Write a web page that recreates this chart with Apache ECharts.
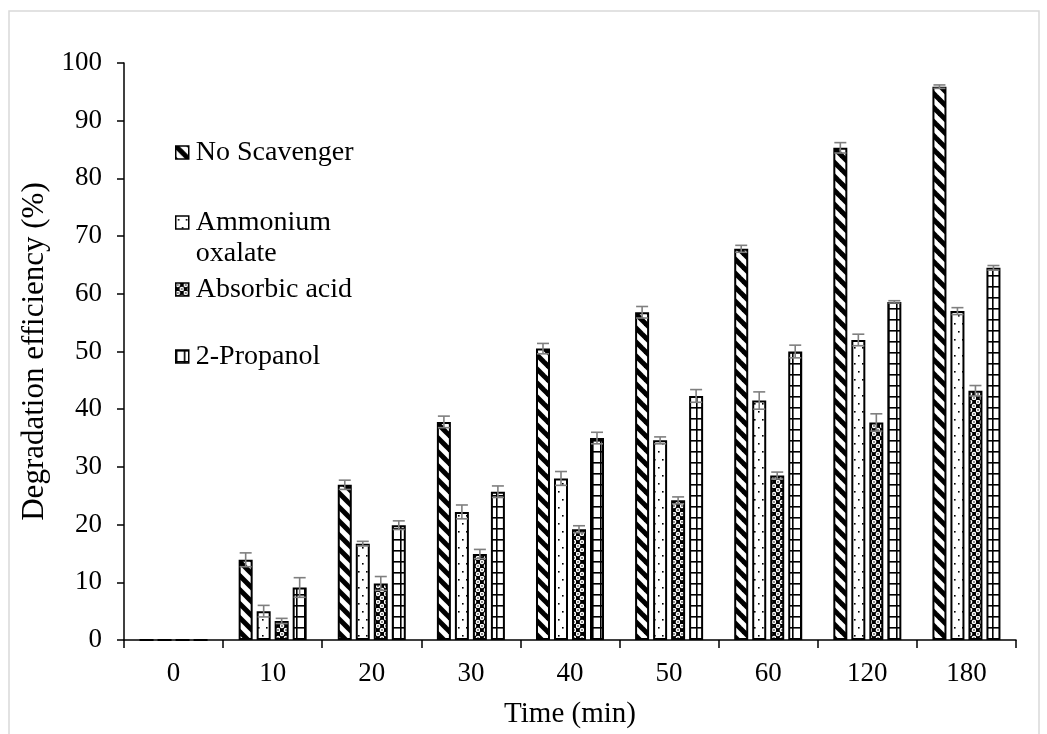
<!DOCTYPE html>
<html>
<head>
<meta charset="utf-8">
<script src="https://cdn.jsdelivr.net/npm/echarts@6/dist/echarts.min.js"></script>
<style>
html,body{margin:0;padding:0;background:#fff;}
#chart{width:1047px;height:734px;}
</style>
</head>
<body>
<div id="chart"></div>
<script>
// ---- Data ----
const categories = ['0', '10', '20', '30', '40', '50', '60', '120', '180'];
const seriesNames = ['No Scavenger', 'Ammonium oxalate', 'Absorbic acid', '2-Propanol'];
const noScavenger = [0, 13.9, 26.9, 37.8, 50.5, 56.8, 67.8, 85.3, 95.9];
const ammoniumOxalate = [0, 5.0, 16.7, 22.2, 28.0, 34.6, 41.5, 52.0, 57.0];
const absorbicAcid = [0, 3.3, 9.8, 14.9, 19.2, 24.2, 28.5, 37.7, 43.2];
const propanol = [0, 9.1, 19.9, 25.7, 35.0, 42.3, 50.0, 58.6, 64.5];
const noScavengerErr = [0, 1.2, 0.8, 1.0, 0.9, 1.0, 0.6, 0.9, 0.3];
const ammoniumOxalateErr = [0, 1.0, 0.4, 1.2, 1.2, 0.6, 1.5, 1.0, 0.6];
const absorbicAcidErr = [0, 0.45, 1.2, 0.8, 0.6, 0.6, 0.6, 1.5, 0.9];
const propanolErr = [0, 1.7, 0.75, 1.0, 1.0, 1.1, 1.1, 0.2, 0.4];
const yTicks = {min: 0, max: 100, interval: 10};

const values = [noScavenger, ammoniumOxalate, absorbicAcid, propanol];
const errors = [noScavengerErr, ammoniumOxalateErr, absorbicAcidErr, propanolErr];

// ---- Patterns ----
function tile(w, h, draw, bg) {
  const c = document.createElement('canvas');
  c.width = w; c.height = h;
  const ctx = c.getContext('2d');
  ctx.fillStyle = bg || '#fff';
  ctx.fillRect(0, 0, w, h);
  draw(ctx, w, h);
  return c;
}
const patStripes = tile(14, 14, (ctx) => {
  ctx.strokeStyle = '#000'; ctx.lineWidth = 5;
  for (const c of [-14, 0, 14]) {
    ctx.beginPath(); ctx.moveTo(c - 3, -3); ctx.lineTo(c + 17, 17); ctx.stroke();
  }
});
const patDots = tile(8, 16, (ctx) => {
  ctx.fillStyle = '#000';
  ctx.fillRect(2, 3, 1.6, 1.6);
  ctx.fillRect(6, 11, 1.6, 1.6);
});
const patCircles = tile(8, 8, (ctx) => {
  ctx.fillStyle = '#fff';
  for (const p of [[2, 2], [6, 6]]) {
    ctx.beginPath(); ctx.arc(p[0], p[1], 2.3, 0, Math.PI * 2); ctx.fill();
  }
  ctx.fillStyle = '#000';
  for (const p of [[2, 2], [6, 6]]) {
    ctx.beginPath(); ctx.arc(p[0], p[1], 0.8, 0, Math.PI * 2); ctx.fill();
  }
}, '#000');
const patGrid = tile(8, 11, (ctx) => {
  ctx.fillStyle = '#000';
  ctx.fillRect(0, 0, 1.6, 11);
  ctx.fillRect(0, 0, 8, 1.6);
});
const patterns = [patStripes, patDots, patCircles, patGrid];

const FONT = "'Liberation Serif', 'Times New Roman', serif";
const BAR_W = 14, BAR_STEP = 18;

const barSeries = seriesNames.map((name, i) => ({
  name: name,
  type: 'bar',
  data: values[i],
  barWidth: BAR_W,
  barGap: ((BAR_STEP - BAR_W) / BAR_W * 100).toFixed(1) + '%',
  itemStyle: {
    color: {image: patterns[i], repeat: 'repeat'},
    borderColor: '#000',
    borderWidth: 2
  },
  emphasis: {disabled: true},
  z: 2
}));

const errData = [];
values.forEach((arr, si) => {
  arr.forEach((v, ci) => {
    if (errors[si][ci] > 0) errData.push([ci, v, errors[si][ci], si]);
  });
});

const errSeries = {
  type: 'custom',
  name: 'err',
  data: errData,
  encode: {x: 0, y: 1},
  z: 5,
  silent: true,
  renderItem: function (params, api) {
    const ci = api.value(0), v = api.value(1), e = api.value(2), si = api.value(3);
    const base = api.coord([ci, v]);
    const x = base[0] + (si - 1.5) * BAR_STEP;
    const yt = api.coord([ci, v + e])[1];
    const yb = api.coord([ci, v - e])[1];
    const cap = 6;
    const st = {stroke: '#7f7f7f', lineWidth: 1.6};
    return {
      type: 'group',
      children: [
        {type: 'line', shape: {x1: x, y1: yt, x2: x, y2: yb}, style: st},
        {type: 'line', shape: {x1: x - cap, y1: yt, x2: x + cap, y2: yt}, style: st},
        {type: 'line', shape: {x1: x - cap, y1: yb, x2: x + cap, y2: yb}, style: st}
      ]
    };
  }
};

const legendBase = {
  left: 170,
  orient: 'vertical',
  icon: 'rect',
  itemWidth: 13,
  itemHeight: 13,
  selectedMode: false,
  itemStyle: {borderColor: '#000', borderWidth: 1.5},
  textStyle: {fontFamily: FONT, fontSize: 28, color: '#000', lineHeight: 31, padding: [0, 0, 0, 2]}
};

const option = {
  animation: false,
  backgroundColor: '#fff',
  graphic: [{
    type: 'rect',
    shape: {x: 9, y: 11, width: 1030, height: 740},
    style: {fill: 'none', stroke: '#d9d9d9', lineWidth: 1.5},
    silent: true,
    z: -10
  }],
  grid: {left: 124, right: 31, top: 63, bottom: 91, containLabel: false},
  legend: [
    Object.assign({}, legendBase, {data: [seriesNames[0]], top: 132}),
    Object.assign({}, legendBase, {data: [seriesNames[1]], top: 171, formatter: function () { return '\nAmmonium\noxalate'; }}),
    Object.assign({}, legendBase, {data: [seriesNames[2]], top: 269}),
    Object.assign({}, legendBase, {data: [seriesNames[3]], top: 336})
  ],
  xAxis: {
    type: 'category',
    data: categories,
    name: 'Time (min)',
    nameLocation: 'middle',
    nameGap: 60,
    nameTextStyle: {fontFamily: FONT, fontSize: 29, color: '#000'},
    axisLine: {lineStyle: {color: '#000', width: 1.5}},
    axisTick: {show: true, length: 8, lineStyle: {color: '#000', width: 1.5}},
    axisLabel: {fontFamily: FONT, fontSize: 27, color: '#000', margin: 20},
    splitLine: {show: false}
  },
  yAxis: {
    type: 'value',
    min: yTicks.min,
    max: yTicks.max,
    interval: yTicks.interval,
    name: 'Degradation efficiency (%)',
    nameLocation: 'middle',
    nameGap: 69,
    nameTextStyle: {fontFamily: FONT, fontSize: 31, color: '#000'},
    axisLine: {show: true, lineStyle: {color: '#000', width: 1.5}},
    axisTick: {show: true, length: 7, lineStyle: {color: '#000', width: 1.5}},
    axisLabel: {fontFamily: FONT, fontSize: 27, color: '#000', margin: 22},
    splitLine: {show: false}
  },
  series: barSeries.concat([errSeries])
};

const chart = echarts.init(document.getElementById('chart'), null, {renderer: 'canvas'});
chart.setOption(option);
</script>
</body>
</html>
